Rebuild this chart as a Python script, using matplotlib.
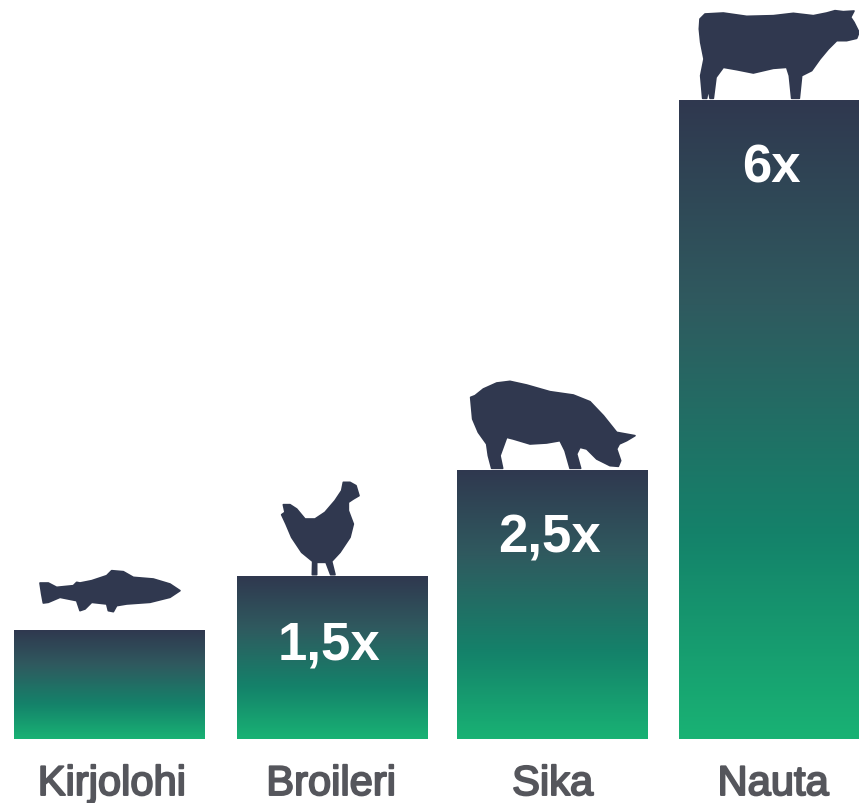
import numpy as np
import matplotlib
matplotlib.use("Agg")
import matplotlib.pyplot as plt
import matplotlib.patheffects as pe
from matplotlib.colors import LinearSegmentedColormap
from matplotlib.patches import Polygon

categories = ["Kirjolohi", "Broileri", "Sika", "Nauta"]
values = [1.02, 1.53, 2.53, 6]
value_labels = ["", "1,5x", "2,5x", "6x"]
bar_centers = [109.5, 332, 552.5, 774.5]
label_centers = [111.5, 331, 552.5, 773]

navy = "#30384f"
grad = LinearSegmentedColormap.from_list(
    "bars", [(0, "#19b274"), (0.32, "#14826a"), (0.68, "#2f5a5f"), (1, "#30384f")])

# icon outlines, zoom crop coordinates (3x) with crop offset
cow = [(60,60),(75,45),(130,42),(200,52),(280,50),(340,43),(400,50),(440,42),(465,35),(490,38),(522,36),
       (512,55),(522,70),(537,100),(530,118),(500,125),(470,125),(445,150),(420,180),(395,215),(365,230),
       (358,298),(335,298),(328,230),(320,205),(280,208),(220,222),(170,212),(130,205),(108,235),(100,298),
       (90,298),(85,270),(80,298),(68,298),(62,230),(72,180),(62,130),(58,90)]
pig = [(32,85),(45,80),(70,60),(110,42),(150,37),(200,48),(270,68),(340,78),(390,98),(430,140),(470,190),
       (525,200),(500,215),(478,225),(470,240),(482,275),(475,292),(450,290),(410,270),(380,240),(360,235),
       (350,255),(362,298),(330,298),(315,245),(300,215),(260,222),(210,225),(160,210),(140,205),(120,260),
       (128,298),(95,298),(85,260),(80,225),(55,190),(38,150)]
hen = [(70,92),(90,92),(110,105),(135,135),(165,135),(195,115),(225,80),(245,50),(250,25),(270,25),(288,35),
       (297,65),(280,75),(265,85),(265,110),(280,150),(270,190),(240,235),(215,262),(225,302),(212,302),
       (198,265),(170,265),(170,302),(157,302),(158,262),(125,235),(95,190),(78,150),(65,122),(75,115)]
fish = [(60,72),(85,72),(110,85),(160,80),(170,70),(180,72),(215,65),(260,50),(275,35),(310,38),(340,55),
        (400,60),(450,75),(480,95),(450,115),(390,130),(320,135),(290,140),(280,158),(265,155),(260,135),
        (215,130),(195,150),(180,155),(170,125),(120,115),(85,130),(70,132),(65,105)]
icons = [(cow, 680, 0), (pig, 460, 370), (hen, 260, 475), (fish, 20, 560)]

plt.rcParams["font.family"] = ["Liberation Sans", "DejaVu Sans"]

fig = plt.figure(figsize=(8.59, 8.04), dpi=100)
ax = fig.add_axes([0, 0, 1, 1])
unit = 106.5
ax.set_xlim(0, 859)
ax.set_ylim(-64 / unit, 740 / unit)
ax.axis("off")

bars = ax.bar(bar_centers, values, width=191, color="none", linewidth=0)
gradient = np.linspace(1, 0, 256).reshape(-1, 1)
for bar, v in zip(bars, values):
    im = ax.imshow(gradient, cmap=grad, vmin=0, vmax=1, aspect="auto", interpolation="bilinear",
                   extent=[bar.get_x(), bar.get_x() + bar.get_width(), 0, v], zorder=2)
    im.set_clip_path(bar)
ax.set_xlim(0, 859)
ax.set_ylim(-64 / unit, 740 / unit)

for x, v, lab in zip(bar_centers, values, value_labels):
    ax.text(x - 3, v - 82 / unit, lab, color="white", fontsize=38, fontweight="bold",
            ha="center", va="baseline", zorder=3)
for x, lab in zip(label_centers, categories):
    ax.text(x, -56 / unit, lab, color="#55565c", fontsize=30,
            ha="center", va="baseline",
            path_effects=[pe.withStroke(linewidth=1.4, foreground="#55565c")])

# silhouettes sit in a pixel space overlay
ov = fig.add_axes([0, 0, 1, 1])
ov.set_xlim(0, 859)
ov.set_ylim(804, 0)
ov.axis("off")
ov.patch.set_alpha(0)
for pts, ox, oy in icons:
    xy = [(ox + a / 3, oy + b / 3) for a, b in pts]
    ov.add_patch(Polygon(xy, closed=True, facecolor=navy, edgecolor=navy, linewidth=1.2, joinstyle="round"))

fig.savefig("out.png", dpi=100)
